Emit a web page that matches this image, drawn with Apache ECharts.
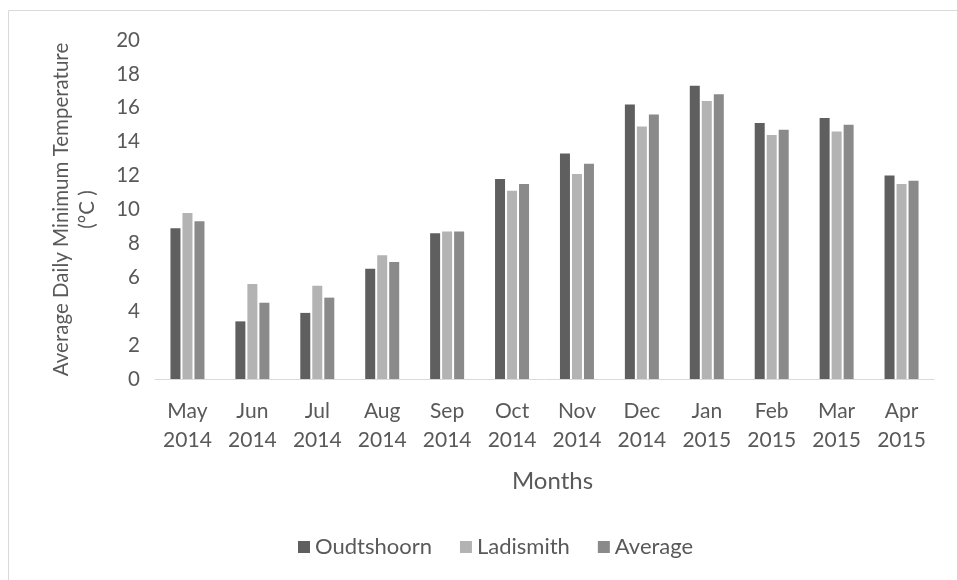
<!DOCTYPE html>
<html>
<head>
<meta charset="utf-8">
<style>
  html, body { margin: 0; padding: 0; background: #fff; }
  #chart { width: 957px; height: 580px; }
</style>
<script src="https://cdn.jsdelivr.net/npm/echarts@6/dist/echarts.min.js"></script>
</head>
<body>
<div id="chart"></div>
<script>
// month labels (two lines each)
const months = ['May\n2014', 'Jun\n2014', 'Jul\n2014', 'Aug\n2014', 'Sep\n2014', 'Oct\n2014',
  'Nov\n2014', 'Dec\n2014', 'Jan\n2015', 'Feb\n2015', 'Mar\n2015', 'Apr\n2015']

// average daily minimum temperature
const oudtshoorn = [8.9, 3.4, 3.9, 6.5, 8.6, 11.8, 13.3, 16.2, 17.3, 15.1, 15.4, 12.0]
const ladismith = [9.8, 5.6, 5.5, 7.3, 8.7, 11.1, 12.1, 14.9, 16.4, 14.4, 14.6, 11.5]
const average = [9.3, 4.5, 4.8, 6.9, 8.7, 11.5, 12.7, 15.6, 16.8, 14.7, 15.0, 11.7]

const textColor = '#595959'
const font = 'Lato, "Open Sans", sans-serif'

const chart = echarts.init(document.getElementById('chart'))

function bar(name, data, color) {
  return {
    name: name,
    type: 'bar',
    data: data,
    barWidth: 10,
    barGap: '20%',
    itemStyle: { color: color },
    animation: false
  }
}

chart.setOption({
  backgroundColor: '#fff',
  textStyle: { fontFamily: font, color: textColor },
  graphic: [{
    type: 'rect',
    shape: { x: 8.5, y: 10.5, width: 1000, height: 600 },
    style: { fill: 'none', stroke: '#d9d9d9', lineWidth: 1 },
    silent: true
  }],
  grid: {
    left: 155,
    right: 23,
    top: 40,
    bottom: 201
  },
  legend: {
    bottom: 17,
    left: 293,
    itemWidth: 12,
    itemHeight: 12,
    itemGap: 28,
    icon: 'rect',
    textStyle: { fontFamily: font, fontSize: 22, color: textColor },
    data: ['Oudtshoorn', 'Ladismith', 'Average']
  },
  xAxis: {
    type: 'category',
    data: months,
    name: 'Months',
    nameLocation: 'middle',
    nameGap: 90,
    nameTextStyle: { fontFamily: font, fontSize: 24, color: textColor, padding: [0, 0, 0, 16] },
    axisLine: { lineStyle: { color: '#d9d9d9', width: 1 } },
    axisTick: { show: false },
    axisLabel: {
      fontFamily: font,
      fontSize: 21,
      color: textColor,
      lineHeight: 29,
      margin: 18,
      interval: 0
    }
  },
  yAxis: {
    type: 'value',
    min: 0,
    max: 20,
    interval: 2,
    name: 'Average Daily Minimum Temperature\n(°C )',
    nameLocation: 'middle',
    nameGap: 55,
    nameRotate: 90,
    nameTextStyle: { fontFamily: font, fontSize: 20.5, color: textColor, lineHeight: 26 },
    axisLine: { show: false },
    axisTick: { show: false },
    splitLine: { show: false },
    axisLabel: { fontFamily: font, fontSize: 20.5, color: textColor, margin: 15 }
  },
  series: [
    bar('Oudtshoorn', oudtshoorn, '#5f5f5f'),
    bar('Ladismith', ladismith, '#b3b3b3'),
    bar('Average', average, '#8a8a8a')
  ]
})
</script>
</body>
</html>
